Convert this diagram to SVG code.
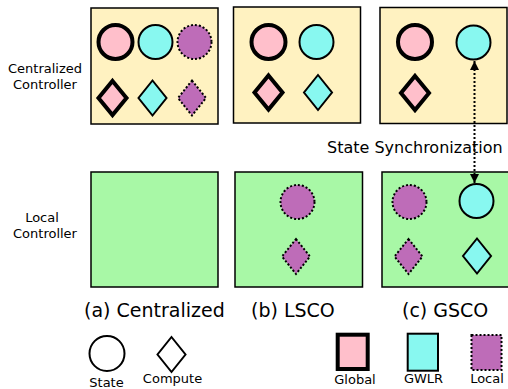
<svg xmlns="http://www.w3.org/2000/svg" width="508" height="389" viewBox="0 0 508 389">
<defs>
<style>
text{font-family:"DejaVu Sans","Liberation Sans",sans-serif;fill:#000}
.side{font-size:13px;text-anchor:middle}
.cap{font-size:19px}
.leg{font-size:13px;text-anchor:middle}
.cc{fill:#fff2c1;stroke:#000;stroke-width:1.5}
.lc{fill:#a8f8a6;stroke:#000;stroke-width:1.5}
.g{fill:#ffbfcb;stroke:#000;stroke-width:4}
.w{fill:#88f8f0;stroke:#000;stroke-width:2}
.l{fill:#be6cb8;stroke:#000;stroke-width:2;stroke-dasharray:2 2}
.o{fill:#fff;stroke:#000;stroke-width:2}
</style>
<marker id="ah" viewBox="0 0 10 10" refX="10" refY="5" markerWidth="4.5" markerHeight="4.5" orient="auto-start-reverse" markerUnits="strokeWidth">
<path d="M0,0 L10,5 L0,10 z" fill="#000"/>
</marker>
</defs>
<text class="side" x="45" y="73">Centralized</text>
<text class="side" x="45" y="89">Controller</text>
<text class="side" x="42" y="222">Local</text>
<text class="side" x="45" y="237.5">Controller</text>
<g id="cc-a">
<rect class="cc" x="91" y="8" width="127" height="116"/>
<circle class="g" cx="115.5" cy="42" r="17"/>
<circle class="w" cx="155.5" cy="42" r="17"/>
<circle class="l" cx="194.5" cy="42" r="17"/>
<path class="g" d="M112.5,81 L126.5,98 L112.5,115 L98.5,98 Z"/>
<path class="w" d="M152.5,80.5 L166.5,98 L152.5,115.5 L138.5,98 Z"/>
<path class="l" d="M192,80.5 L206,98 L192,115.5 L178,98 Z"/>
</g>
<g id="cc-b">
<rect class="cc" x="233.5" y="7" width="127" height="116"/>
<circle class="g" cx="268.5" cy="42" r="17"/>
<circle class="w" cx="316.5" cy="42" r="17"/>
<path class="g" d="M268.5,75.5 L282.5,92.5 L268.5,109.5 L254.5,92.5 Z"/>
<path class="w" d="M318,75 L332,92.5 L318,110 L304,92.5 Z"/>
</g>
<g id="cc-c">
<rect class="cc" x="380" y="7.5" width="127" height="116"/>
<circle class="g" cx="415" cy="42" r="17"/>
<circle class="w" cx="473.5" cy="42.5" r="17"/>
<path class="g" d="M415,76 L429,93 L415,110 L401,93 Z"/>
</g>
<g id="lc-a">
<rect class="lc" x="91" y="172" width="127" height="115"/>
</g>
<g id="lc-b">
<rect class="lc" x="235" y="172" width="127.5" height="115"/>
<circle class="l" cx="297.5" cy="202" r="17"/>
<path class="l" d="M296,239 L310,256.5 L296,274 L282,256.5 Z"/>
</g>
<g id="lc-c">
<rect class="lc" x="382" y="172" width="130" height="115"/>
<circle class="l" cx="409.5" cy="202" r="17"/>
<circle class="w" cx="476.5" cy="201" r="17"/>
<path class="l" d="M408.5,239 L422.5,256.5 L408.5,274 L394.5,256.5 Z"/>
<path class="w" d="M477,238.5 L491,256 L477,273.5 L463,256 Z"/>
</g>
<text x="327" y="153.3" style="font-size:16px">State Synchronization</text>
<g id="connectors">
<line x1="474.5" y1="61" x2="474.5" y2="183" stroke="#000" stroke-width="2" stroke-dasharray="2 2" marker-start="url(#ah)" marker-end="url(#ah)"/>
</g>
<text class="cap" x="84" y="317">(a) Centralized</text>
<text class="cap" x="251" y="317">(b) LSCO</text>
<text class="cap" x="402" y="317">(c) GSCO</text>
<g id="legend-state">
<circle class="o" cx="107" cy="353.5" r="17.5"/>
<text class="leg" x="106.5" y="386.5">State</text>
</g>
<g id="legend-compute">
<path class="o" d="M171.5,337 L185.5,354.5 L171.5,372 L157.5,354.5 Z"/>
<text class="leg" x="172.5" y="382.5">Compute</text>
</g>
<g id="legend-global">
<rect class="g" x="337.7" y="334.7" width="30" height="34.3"/>
<text class="leg" x="355" y="384">Global</text>
</g>
<g id="legend-gwlr">
<rect class="w" x="407.7" y="333.7" width="30.3" height="37"/>
<text class="leg" x="423.5" y="383">GWLR</text>
</g>
<g id="legend-local">
<rect class="l" x="471.5" y="335" width="30" height="35"/>
<text class="leg" x="487" y="383">Local</text>
</g>
</svg>
